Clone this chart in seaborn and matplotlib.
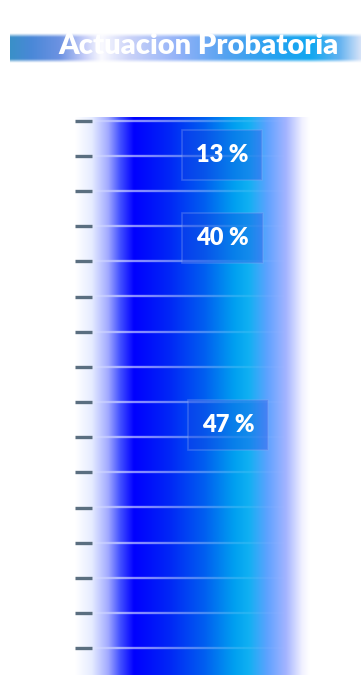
import numpy as np
import pandas as pd
import matplotlib
matplotlib.use("Agg")
import matplotlib.pyplot as plt
from matplotlib.colors import LinearSegmentedColormap
from matplotlib import transforms
import seaborn as sns

# Data: one stacked column, segments listed bottom to top
segments = ["Segmento C", "Segmento B", "Segmento A"]
values = [47, 40, 13]
labels = ["47 %", "40 %", "13 %"]
title = "Actuacion Probatoria"

# Label anchor heights (axis units) and horizontal placement (axes fraction)
label_y = [44.8, 78.3, 93.2]
label_x = [0.651, 0.626, 0.626]

sns.set_theme(style="white")
plt.rcParams["font.family"] = ["Lato", "DejaVu Sans"]

W, H = 361, 675
fig = plt.figure(figsize=(W / 100, H / 100), dpi=100)
fig.patch.set_facecolor("white")

# ---- main column ---------------------------------------------------------
ax = fig.add_axes([75 / W, 0, 235 / W, 558 / H])
ax.set_facecolor("none")

df = pd.DataFrame({"grupo": ["Actuacion"] * len(values),
                   "segmento": segments,
                   "valor": values})
df["acumulado"] = df["valor"].cumsum()

# stacked column: draw cumulative totals from tallest to shortest
for _, row in df.iloc[::-1].iterrows():
    sns.barplot(data=pd.DataFrame({"grupo": [row["grupo"]], "v": [row["acumulado"]]}),
                x="grupo", y="v", ax=ax, width=1.0, color="white",
                linewidth=0, saturation=1)

ax.set_xlim(-0.5, 0.5)
ax.set_ylim(0, 100)

bar_cmap = LinearSegmentedColormap.from_list("barra", [
    (0.00, "#ffffff"), (0.07, "#e6ecff"), (0.14, "#a2aaff"), (0.19, "#4452ff"),
    (0.25, "#0000ff"), (0.40, "#0026f6"), (0.55, "#005ef0"), (0.68, "#00a0f0"),
    (0.74, "#10b0f2"), (0.82, "#5ea2ff"), (0.90, "#a4b4ff"), (0.97, "#f2f2ff"),
    (1.00, "#ffffff")])
grad = np.linspace(0, 1, 512)[None, :]
for patch in ax.patches:
    im = ax.imshow(grad, cmap=bar_cmap, aspect="auto",
                   extent=(-0.5, 0.5, 0, 100), interpolation="bicubic", zorder=1)
    im.set_clip_path(patch)
    patch.set_alpha(0)

# y ticks drawn inward with light streaks across the column
tick_start, tick_step, n_ticks = 4.78, 6.303, 16
ticks = [tick_start + tick_step * k for k in range(n_ticks)]
ax.set_axisbelow(False)
ax.set_yticks(ticks)
ax.set_xticks([])
ax.tick_params(axis="y", direction="in", length=12, width=2.4,
               color="#5a6e80", labelleft=False, left=True)
ax.set_xlabel("")
ax.set_ylabel("")
for s in ax.spines.values():
    s.set_visible(False)

# soft streak image: alpha fades along x and across the line thickness
sx = np.linspace(0, 1, 256)
s_alpha_x = np.interp(sx, [0.0, 0.12, 0.25, 0.55, 0.80, 1.0],
                      [0.15, 0.85, 0.8, 0.45, 0.12, 0.0])
s_alpha_y = np.array([0.0, 0.5, 1.0, 0.5, 0.0])
streak = np.zeros((5, 256, 4))
streak[..., 0] = 0.93
streak[..., 1] = 0.95
streak[..., 2] = 1.0
streak[..., 3] = s_alpha_y[:, None] * s_alpha_x[None, :]
half = 0.32
for t in ticks:
    ax.imshow(streak, aspect="auto", extent=(-0.42, 0.42, t - half, t + half),
              interpolation="bilinear", zorder=2)
ax.set_xlim(-0.5, 0.5)
ax.set_ylim(0, 100)

lab_tf = transforms.blended_transform_factory(ax.transAxes, ax.transData)
for y, x, txt in zip(label_y, label_x, labels):
    ax.text(x, y, txt, transform=lab_tf,
            ha="center", va="center", color="white", fontsize=17, fontweight="heavy",
            zorder=4,
            bbox=dict(boxstyle="square,pad=0.6", facecolor="#1840e0",
                      edgecolor=(0.55, 0.65, 0.95, 0.25), linewidth=1.2, alpha=0.33))

# ---- title banner --------------------------------------------------------
axt = fig.add_axes([10 / W, (H - 63) / H, 351 / W, 30 / H])
axt.axis("off")
ban_cmap = LinearSegmentedColormap.from_list("banda", [
    (0.00, "#3a90c8"), (0.06, "#4a88d8"), (0.14, "#6c92e2"), (0.21, "#c4ccf8"),
    (0.26, "#fafaff"), (0.34, "#cad2f8"), (0.48, "#92b2f8"), (0.62, "#52a2f0"),
    (0.77, "#22a2f0"), (0.86, "#12a8f0"), (0.94, "#62b2f0"), (1.00, "#d4e2f8")])
rgba = ban_cmap(np.tile(np.linspace(0, 1, 512), (40, 1)))
edge = np.clip(np.minimum(np.arange(40), np.arange(40)[::-1]) / 5.0, 0, 1)
rgba[..., 3] = edge[:, None]
axt.imshow(rgba, aspect="auto", extent=(0, 1, 0, 1), interpolation="bicubic")
axt.set_xlim(0, 1)
axt.set_ylim(0, 1)

fig.text(198 / W, (H - 46) / H, title, ha="center", va="center",
         color="white", fontsize=21, fontweight="heavy")

fig.savefig("out.png", dpi=100)
